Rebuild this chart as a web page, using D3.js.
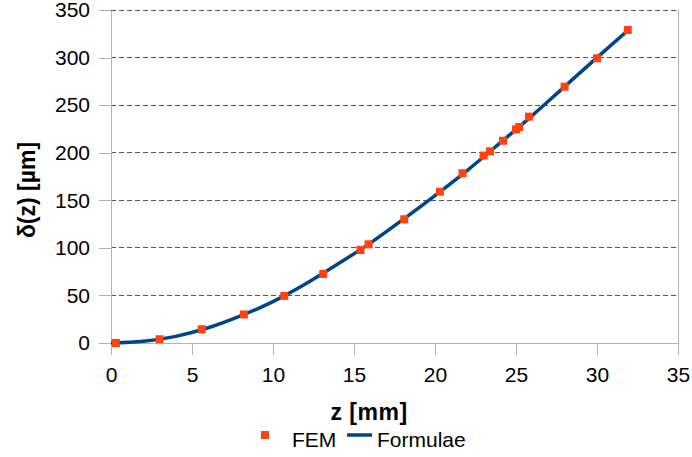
<!DOCTYPE html>
<html>
<head>
<meta charset="utf-8">
<script src="https://cdn.jsdelivr.net/npm/d3@7"></script>
<style>
  body { margin: 0; background: #fff; }
  text { font-family: "Liberation Sans", Arial, sans-serif; fill: #000; }
</style>
</head>
<body>
<div id="chart"></div>
<script>
// FEM points
const femZ = [0.3, 3.0, 5.6, 8.2, 10.7, 13.1, 15.4, 15.9, 18.1, 20.3, 21.7, 23.0, 23.4, 24.2, 25.0, 25.2, 25.8, 28.0, 30.0, 31.9];
const femD = [0, 3.9, 14.4, 30, 49.5, 72.5, 97.7, 103.7, 130, 159, 178.4, 197, 201.5, 212.6, 224.5, 227, 237.9, 269.4, 299.2, 329];
// Formulae curve points
const formZ = [0, 2, 4, 6, 8, 10, 12, 14, 16, 18, 20, 22, 24, 26, 28, 30, 32];
const formD = [0, 1.8, 7, 16, 28.5, 43.5, 62, 83, 105, 129.5, 155, 181.5, 210, 239, 269.5, 300, 330];
const xTicks = [0, 5, 10, 15, 20, 25, 30, 35];
const yTicks = [0, 50, 100, 150, 200, 250, 300, 350];

const width = 692, height = 457;
const margin = {top: 10, right: 14, bottom: 114, left: 111};

const svg = d3.select('#chart').append('svg').attr('width', width).attr('height', height);

const x = d3.scaleLinear().domain([0, 35]).range([margin.left, width - margin.right]);
const y = d3.scaleLinear().domain([0, 350]).range([height - margin.bottom, margin.top]);

// dashed gridlines
svg.append('g').selectAll('line').data(yTicks.filter(d => d > 0)).enter().append('line')
    .attr('x1', x(0)).attr('x2', x(35)).attr('y1', d => y(d)).attr('y2', d => y(d))
    .attr('stroke', '#555').attr('stroke-width', 1).attr('stroke-dasharray', '5,3')
    .attr('shape-rendering', 'crispEdges');

// right border
svg.append('line').attr('x1', x(35)).attr('x2', x(35)).attr('y1', y(0)).attr('y2', y(350))
    .attr('stroke', '#b3b3b3').attr('shape-rendering', 'crispEdges');

// axes
const xAxis = svg.append('g').attr('transform', `translate(0,${y(0)})`)
    .call(d3.axisBottom(x).tickValues(xTicks).tickSize(12).tickPadding(8).tickSizeOuter(0));
const yAxis = svg.append('g').attr('transform', `translate(${x(0)},0)`)
    .call(d3.axisLeft(y).tickValues(yTicks).tickSize(12).tickPadding(9).tickSizeOuter(0));
[xAxis, yAxis].forEach(g => {
    g.selectAll('path,line').attr('stroke', '#b3b3b3').attr('shape-rendering', 'crispEdges');
    g.selectAll('text').attr('font-size', '21px').attr('font-family', '"Liberation Sans", Arial, sans-serif').attr('fill', '#000');
});
xAxis.selectAll('text').attr('dy', '0.92em');

// axis titles
svg.append('text').attr('x', 369).attr('y', 420).attr('text-anchor', 'middle')
    .attr('font-size', '23px').attr('font-weight', 'bold').attr('letter-spacing', '0.5px').text('z [mm]');
svg.append('text').attr('transform', 'translate(35,190) rotate(-90)').attr('text-anchor', 'middle')
    .attr('font-size', '23px').attr('font-weight', 'bold').text('δ(z) [µm]');

// formulae line
const line = d3.line().x((d, i) => x(formZ[i])).y(d => y(d)).curve(d3.curveMonotoneX);
svg.append('path').datum(formD).attr('d', line)
    .attr('fill', 'none').attr('stroke', '#004586').attr('stroke-width', 3.5);

// FEM markers
svg.append('g').selectAll('rect').data(femD).enter().append('rect')
    .attr('x', (d, i) => x(femZ[i]) - 4).attr('y', d => y(d) - 4)
    .attr('width', 8).attr('height', 8).attr('fill', '#ff420e');

// legend
const leg = svg.append('g');
leg.append('rect').attr('x', 261).attr('y', 431).attr('width', 8).attr('height', 8).attr('fill', '#ff420e');
leg.append('text').attr('x', 292).attr('y', 447).attr('font-size', '21px').text('FEM');
leg.append('line').attr('x1', 347).attr('x2', 372).attr('y1', 435).attr('y2', 435)
    .attr('stroke', '#004586').attr('stroke-width', 3.5);
leg.append('text').attr('x', 377).attr('y', 447).attr('font-size', '21px').text('Formulae');
</script>
</body>
</html>
